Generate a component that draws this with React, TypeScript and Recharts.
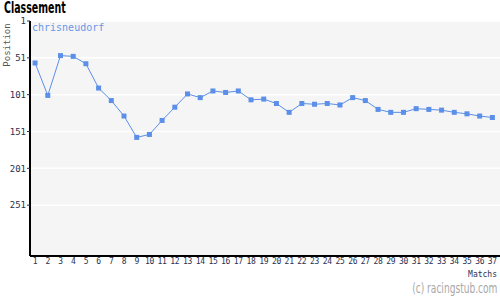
import { LineChart, Line, XAxis, YAxis, CartesianGrid } from 'recharts';

const matches = [
  1, 2, 3, 4, 5, 6, 7, 8, 9, 10, 11, 12, 13, 14, 15, 16, 17, 18, 19,
  20, 21, 22, 23, 24, 25, 26, 27, 28, 29, 30, 31, 32, 33, 34, 35, 36, 37,
];
const positions = [
  58, 102, 48, 49, 59, 92, 109, 130, 159, 155, 136, 118, 100, 105, 96, 98, 96, 108, 107,
  113, 125, 113, 114, 113, 115, 105, 109, 121, 125, 125, 120, 121, 122, 125, 127, 130, 132,
];
const yTicks = [1, 51, 101, 151, 201, 251];
const teamName = 'chrisneudorf';

const data = matches.map((m, i) => ({ match: m, position: positions[i] }));

const tickFont = { fontFamily: '"DejaVu Sans Mono", monospace', fontSize: 9, fill: '#2b3050' };
const xTickFont = { ...tickFont, fontSize: 8, letterSpacing: -0.3 };

const SquareDot = (props: any) => {
  const { cx, cy, index } = props;
  if (cx == null || cy == null) return null;
  return <rect key={`d-${index}`} x={cx - 2.5} y={cy - 2.5} width={5} height={5} fill="#5b8fe8" />;
};

export default function App() {
  return (
    <div style={{ position: 'absolute', left: 0, top: 0, width: 500, height: 300, background: '#fff' }}>
      <LineChart
        width={500}
        height={300}
        data={data}
        margin={{ top: 21, right: 0, left: 0, bottom: 0 }}
      >
        <CartesianGrid vertical={false} stroke="#ffffff" strokeWidth={1.5} fill="#f5f5f5" />
        <XAxis
          dataKey="match"
          type="number"
          domain={[0.6, 37.6]}
          ticks={matches}
          interval={0}
          height={44}
          axisLine={{ stroke: '#000', strokeWidth: 2 }}
          tickLine={false}
          tickSize={2}
          tickMargin={0}
          tick={xTickFont}
        />
        <YAxis
          type="number"
          reversed
          domain={[1, 320]}
          ticks={yTicks}
          interval={0}
          width={30}
          axisLine={{ stroke: '#000', strokeWidth: 2 }}
          tickLine={{ stroke: '#2b3050' }}
          tickSize={3}
          tickMargin={1}
          tick={tickFont}
        />
        <Line
          dataKey="position"
          stroke="#5b8fe8"
          strokeWidth={1}
          dot={SquareDot}
          activeDot={false}
          isAnimationActive={false}
        />
      </LineChart>
      <div style={{ position: 'absolute', left: 4, top: 2, fontFamily: '"DejaVu Sans Condensed", "Liberation Sans Narrow", sans-serif', fontWeight: 'bold', fontSize: 15, lineHeight: '13px', color: '#000', transform: 'scaleX(0.7)', transformOrigin: 'left top' }}>
        Classement
      </div>
      <div style={{ position: 'absolute', left: -15, top: 40, transform: 'rotate(-90deg)', fontFamily: '"DejaVu Sans Mono", monospace', fontSize: 9, lineHeight: '10px', color: '#555' }}>
        Position
      </div>
      <div style={{ position: 'absolute', left: 32, top: 22, fontFamily: '"DejaVu Sans Mono", monospace', fontSize: 10, color: '#6a95e6' }}>
        {teamName}
      </div>
      <div style={{ position: 'absolute', right: 3, top: 270, fontFamily: '"DejaVu Sans Mono", monospace', fontSize: 8, color: '#2b3050' }}>
        Matchs
      </div>
      <div style={{ position: 'absolute', right: 3, top: 280, fontFamily: '"DejaVu Sans Condensed", "Liberation Sans Narrow", sans-serif', fontSize: 14, color: '#a8a8a8', transform: 'scaleX(0.72)', transformOrigin: 'right top' }}>
        (c) racingstub.com
      </div>
    </div>
  );
}
